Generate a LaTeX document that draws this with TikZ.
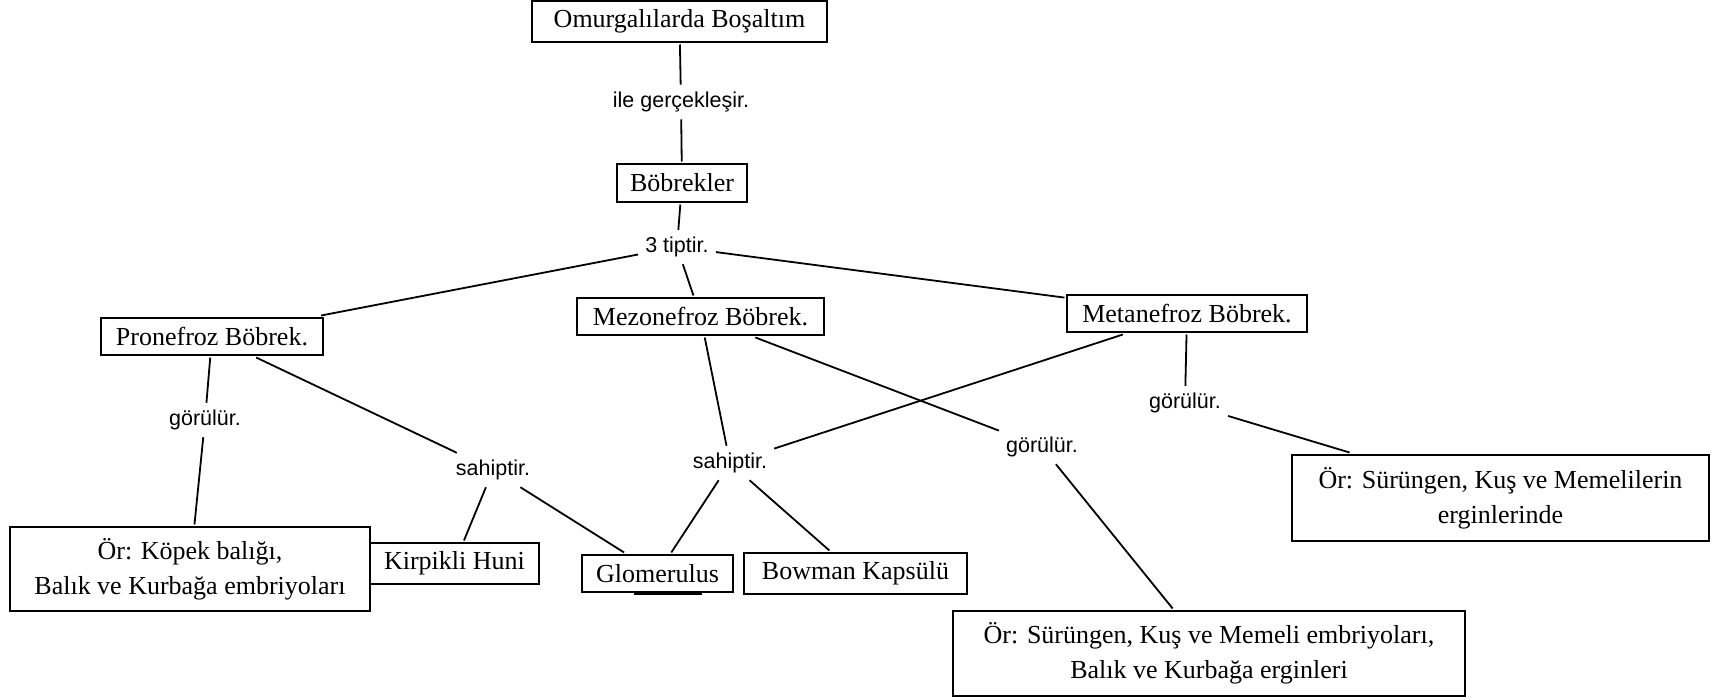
\documentclass[tikz,border=0pt]{standalone}
\usepackage{fontspec}
\setmainfont{Liberation Serif}
\newfontfamily\labelfont{Liberation Sans}
\begin{document}
\begin{tikzpicture}[x=1pt,y=-1pt,
  box/.style={draw, line width=1.8pt, inner sep=0pt, outer sep=2.5pt, align=center,
    font=\fontsize{26}{35}\selectfont},
  rel/.style={inner sep=7pt, font=\labelfont\fontsize{21.5}{26}\selectfont},
  link/.style={line width=1.8pt}]
\useasboundingbox (0,0) rectangle (1722,699);

% concept boxes
\node[box, minimum width=295pt, minimum height=41pt] (omur) at (679.5,21.5) {Omurgalılarda Boşaltım};
\node[box, minimum width=130pt, minimum height=38pt] (bob) at (682,183) {Böbrekler};
\node[box, minimum width=222pt, minimum height=37pt] (pro) at (212,336.5) {Pronefroz Böbrek.};
\node[box, minimum width=247pt, minimum height=37pt] (mezo) at (700.5,316.5) {Mezonefroz Böbrek.};
\node[box, minimum width=240pt, minimum height=37pt] (meta) at (1187,313.5) {Metanefroz Böbrek.};
\node[box, minimum width=169pt, minimum height=41pt] (kirp) at (454.5,563.5) {Kirpikli Huni};
\node[box, minimum width=360pt, minimum height=84pt] (kopek) at (190,569) {Ör: Köpek balığı,\\Balık ve Kurbağa embriyoları};
\node[box, minimum width=151pt, minimum height=37pt] (glom) at (657.5,573.5) {Glomerulus};
\node[box, minimum width=223pt, minimum height=41pt] (bow) at (855.5,573.5) {Bowman Kapsülü};
\node[box, minimum width=512pt, minimum height=85pt] (emb) at (1209,653.5) {Ör: Sürüngen, Kuş ve Memeli embriyoları,\\Balık ve Kurbağa erginleri};
\node[box, minimum width=417pt, minimum height=86pt] (erg) at (1500.5,498) {Ör: Sürüngen, Kuş ve Memelilerin\\erginlerinde};

% thick stroke along the bottom edge of the Glomerulus box
\draw[line width=3.5pt] ([xshift=54pt,yshift=1pt]glom.south west) -- ([xshift=122pt,yshift=1pt]glom.south west);

% linking phrases
\node[rel] (ile) at (681,102) {ile gerçekleşir.};
\node[rel] (tip) at (677,247) {3 tiptir.};
\node[rel] (gorL) at (205,420) {görülür.};
\node[rel] (sahL) at (493,470) {sahiptir.};
\node[rel] (sahM) at (730,463) {sahiptir.};
\node[rel] (gorM) at (1042,447) {görülür.};
\node[rel] (gorR) at (1185,403) {görülür.};

% connectors
\draw[link] (omur) -- (ile);
\draw[link] (ile) -- (bob);
\draw[link] (bob) -- (tip);
\draw[link] (tip) -- (pro);
\draw[link] (tip) -- (mezo);
\draw[link] (tip) -- (meta);
\draw[link] (pro) -- (gorL);
\draw[link] (gorL) -- (kopek);
\draw[link] (pro) -- (sahL);
\draw[link] (sahL) -- (kirp);
\draw[link] (sahL) -- (glom);
\draw[link] (mezo) -- (sahM);
\draw[link] (meta) -- (sahM);
\draw[link] (sahM) -- (glom);
\draw[link] (sahM) -- (bow);
\draw[link] (mezo) -- (gorM);
\draw[link] (gorM) -- (emb);
\draw[link] (meta) -- (gorR);
\draw[link] (gorR) -- (erg);
\end{tikzpicture}
\end{document}
